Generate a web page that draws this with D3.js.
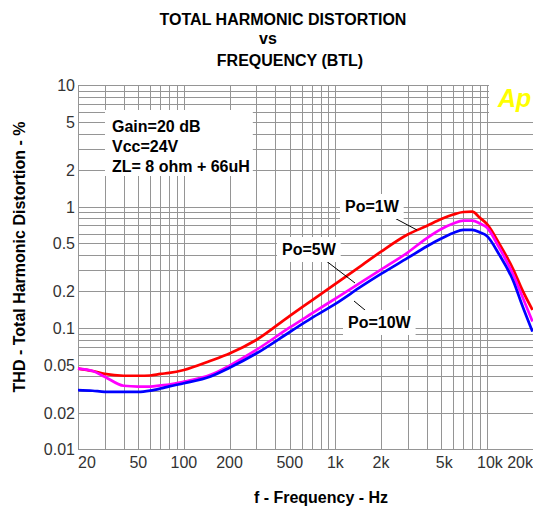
<!DOCTYPE html>
<html>
<head>
<meta charset="utf-8">
<script src="https://cdn.jsdelivr.net/npm/d3@7"></script>
<style>
  html, body { margin: 0; padding: 0; background: #fff; }
  svg { display: block; }
</style>
</head>
<body>
<svg id="chart" width="533" height="510"></svg>
<script>
// ---- data ----
const freqs = [20, 25, 30, 40, 50, 60, 70, 80, 100, 150, 200, 300, 500, 700, 1000, 1500, 2000, 3000, 4000, 5000, 6000, 7000, 8000, 9000, 10000, 12000, 15000, 17000, 20000];
const thd1W  = [0.0463, 0.0442, 0.0418, 0.0404, 0.0404, 0.0406, 0.0418, 0.0426, 0.0451, 0.0537, 0.0616, 0.0796, 0.126, 0.169, 0.231, 0.33, 0.426, 0.59, 0.693, 0.79, 0.862, 0.904, 0.91, 0.809, 0.72, 0.502, 0.301, 0.21, 0.141];
const thd5W  = [0.0463, 0.0442, 0.0397, 0.0334, 0.0329, 0.0329, 0.0336, 0.0342, 0.0361, 0.0411, 0.049, 0.0659, 0.101, 0.132, 0.175, 0.241, 0.303, 0.419, 0.549, 0.655, 0.727, 0.767, 0.767, 0.727, 0.674, 0.464, 0.271, 0.186, 0.113];
const thd10W = [0.0308, 0.0304, 0.0298, 0.0298, 0.0298, 0.0305, 0.0317, 0.033, 0.035, 0.0398, 0.047, 0.0616, 0.0927, 0.121, 0.158, 0.222, 0.279, 0.378, 0.47, 0.547, 0.607, 0.643, 0.643, 0.613, 0.573, 0.407, 0.241, 0.157, 0.0934];
const seriesNames = ["Po=1W", "Po=5W", "Po=10W"];
const seriesColors = ["#ff0000", "#ff00ff", "#0000ff"];
const xTickValues = [20, 50, 100, 200, 500, 1000, 2000, 5000, 10000, 20000];
const xTickLabels = ["20", "50", "100", "200", "500", "1k", "2k", "5k", "10k", "20k"];
const yTickValues = [10, 5, 2, 1, 0.5, 0.2, 0.1, 0.05, 0.02, 0.01];
const yTickLabels = ["10", "5", "2", "1", "0.5", "0.2", "0.1", "0.05", "0.02", "0.01"];
const titleLines = ["TOTAL HARMONIC DISTORTION", "vs", "FREQUENCY (BTL)"];
const conditions = ["Gain=20 dB", "Vcc=24V", "ZL= 8 ohm + 66uH"];

// ---- layout ----
const svg = d3.select("#chart");
const x = d3.scaleLog().domain([20, 20000]).range([78, 532.5]);
const y = d3.scaleLog().domain([0.01, 10]).range([449.3, 85.4]);
const crisp = v => Math.round(v) + 0.5;
const gridColor = "#959595";
const FONT = "Arial, 'Liberation Sans', sans-serif";

// grid values
const vGrid = [];
[10, 100, 1000, 10000].forEach(d => { for (let k = 1; k <= 9; k++) { const f = d * k; if (f >= 20 && f <= 20000) vGrid.push(f); } });
vGrid.push(20000);
const hGrid = [];
[0.01, 0.1, 1].forEach(d => { for (let k = 1; k <= 9; k++) hGrid.push(+(d * k).toPrecision(3)); });
hGrid.push(10);

const grid = svg.append("g").attr("shape-rendering", "crispEdges");
grid.selectAll("line.v").data(vGrid).join("line")
  .attr("x1", d => crisp(x(d))).attr("x2", d => crisp(x(d)))
  .attr("y1", y(10)).attr("y2", y(0.01))
  .attr("stroke", gridColor).attr("stroke-width", 1);
grid.selectAll("line.h").data(hGrid).join("line")
  .attr("x1", x(20)).attr("x2", x(20000))
  .attr("y1", d => crisp(y(d))).attr("y2", d => crisp(y(d)))
  .attr("stroke", gridColor).attr("stroke-width", 1);

// ---- title ----
const titleX = [283, 268, 290];
const titleY = [25, 44, 66];
svg.append("g").selectAll("text").data(titleLines).join("text")
  .attr("x", (d, i) => titleX[i]).attr("y", (d, i) => titleY[i])
  .attr("text-anchor", "middle")
  .attr("font-family", FONT).attr("font-weight", "bold").attr("font-size", 16)
  .attr("fill", "#000").text(d => d);

// ---- axis tick labels ----
svg.append("g").selectAll("text").data(yTickValues).join("text")
  .attr("x", 75).attr("y", d => y(d) + 6)
  .attr("text-anchor", "end")
  .attr("font-family", FONT).attr("font-size", 16).attr("fill", "#333")
  .text((d, i) => yTickLabels[i]);

svg.append("g").selectAll("text").data(xTickValues).join("text")
  .attr("x", (d, i) => i === 0 ? x(d) : (i === xTickValues.length - 1 ? 533 : x(d) + (d >= 5000 ? 3 : 0)))
  .attr("y", 468)
  .attr("text-anchor", (d, i) => i === 0 ? "start" : (i === xTickValues.length - 1 ? "end" : "middle"))
  .attr("font-family", FONT).attr("font-size", 16).attr("fill", "#333")
  .text((d, i) => xTickLabels[i]);

// axis titles
svg.append("text").attr("x", 321).attr("y", 503).attr("text-anchor", "middle")
  .attr("font-family", FONT).attr("font-weight", "bold").attr("font-size", 16)
  .text("f - Frequency - Hz");
svg.append("text").attr("transform", "translate(25,257) rotate(-90)").attr("text-anchor", "middle")
  .attr("font-family", FONT).attr("font-weight", "bold").attr("font-size", 16)
  .text("THD - Total Harmonic Distortion - %");

// ---- helper: text on white box ----
function boxedText(lines, x0, y0, lineH, pad) {
  const g = svg.append("g");
  const rect = g.append("rect").attr("fill", "#fff");
  g.selectAll("text").data(lines).join("text")
    .attr("x", x0).attr("y", (d, i) => y0 + i * lineH)
    .attr("font-family", FONT).attr("font-weight", "bold").attr("font-size", 16)
    .attr("fill", "#000").text(d => d);
  const bb = g.node().getBBox();
  rect.attr("x", bb.x - pad[3]).attr("y", bb.y - pad[0])
    .attr("width", bb.width + pad[1] + pad[3]).attr("height", bb.height + pad[0] + pad[2]);
  return g;
}

// conditions box
boxedText(conditions, 112, 132, 20, [8, 3, 1, 7]);

// Ap logo area
svg.append("rect").attr("x", 489).attr("y", 84).attr("width", 44).attr("height", 31).attr("fill", "#fff");
svg.append("text").attr("x", 498).attr("y", 107)
  .attr("font-family", FONT).attr("font-weight", "bold").attr("font-style", "italic")
  .attr("font-size", 25).attr("fill", "#ffff00").text("Ap");

// ---- curves ----
const allSeries = [thd1W, thd5W, thd10W];
const line = d3.line().x((d, i) => x(freqs[i])).y(d => y(d)).curve(d3.curveMonotoneX);
svg.append("g").selectAll("path").data(allSeries).join("path")
  .attr("d", d => line(d))
  .attr("fill", "none")
  .attr("stroke", (d, i) => seriesColors[i])
  .attr("stroke-width", 2.7)
  .attr("stroke-linejoin", "round");

// ---- series labels with leaders ----
const labelPos = [[345, 212], [282, 255], [348, 328]];
const leaders = [[[387, 214], [417, 230]], [[321, 257], [355, 283]], [[354, 301], [371, 315]]];
svg.append("g").selectAll("line").data(leaders).join("line")
  .attr("x1", d => d[0][0]).attr("y1", d => d[0][1])
  .attr("x2", d => d[1][0]).attr("y2", d => d[1][1])
  .attr("stroke", "#000").attr("stroke-width", 1);
seriesNames.forEach((n, i) => {
  boxedText([n], labelPos[i][0], labelPos[i][1], 0, [4, 4, 4, 5]);
});
</script>
</body>
</html>
